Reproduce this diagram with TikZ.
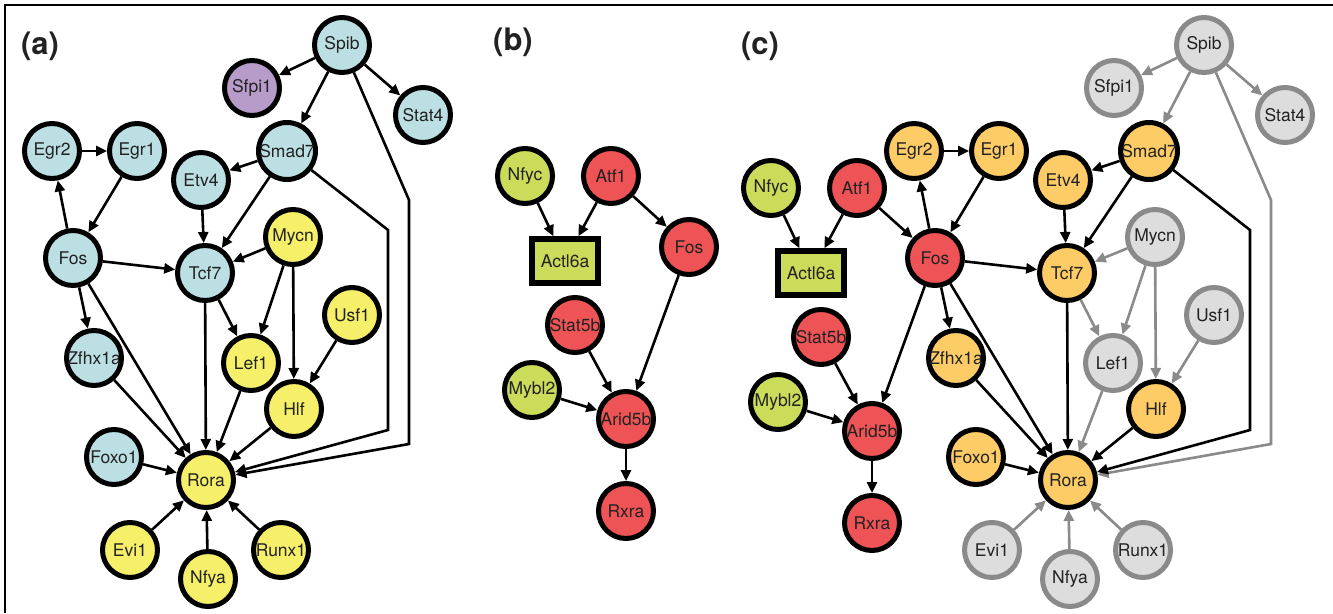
\documentclass[tikz,border=0pt]{standalone}
\usepackage{fontspec}
\setmainfont{TeX Gyre Heros}
\usetikzlibrary{arrows.meta}
\definecolor{cblue}{HTML}{BBDFE3}
\definecolor{cpurple}{HTML}{B79CC9}
\definecolor{cyel}{HTML}{F6EF6A}
\definecolor{cred}{HTML}{EE5356}
\definecolor{cgreen}{HTML}{CBDB5A}
\definecolor{corange}{HTML}{FECC66}
\definecolor{cgrayfill}{HTML}{DDDDDD}
\definecolor{cgrayline}{HTML}{8A8A8A}
\definecolor{txt}{HTML}{222222}
\tikzset{
  gn/.style={circle, minimum size=55pt, inner sep=0pt, line width=5pt, draw=black, text=txt, font=\fontsize{17.5}{19}\selectfont},
  nblue/.style={gn, fill=cblue},
  npurple/.style={gn, fill=cpurple},
  nyel/.style={gn, fill=cyel},
  nred/.style={gn, fill=cred},
  ngreen/.style={gn, fill=cgreen},
  norange/.style={gn, fill=corange},
  ngray/.style={gn, fill=cgrayfill, draw=cgrayline},
  nbox/.style={rectangle, minimum width=66pt, minimum height=44pt, inner sep=0pt, line width=5.5pt, draw=black, fill=cgreen, text=txt, font=\fontsize{17.5}{19}\selectfont},
  ed/.style={line width=2.6pt, color=black, -{Triangle[length=11pt,width=10pt]}},
  ged/.style={ed, color=cgrayline},
  plabel/.style={font=\fontsize{31}{33}\selectfont\bfseries, text=txt, inner sep=0pt},
}
\begin{document}
\begin{tikzpicture}[x=1pt,y=-1pt]
\useasboundingbox (0,0) rectangle (1333,613);
\fill[white] (0,0) rectangle (1333,613);
\coordinate (frTL) at (5,5);
\coordinate (frTR) at (1333,5);
\coordinate (frBL) at (5,613);
\draw[line width=1.6pt] (frTR) -- (frTL) -- (frBL);

% panel labels
\node[plabel] (la) at (40,46) {(a)};
\node[plabel] (lb) at (513,42) {(b)};
\node[plabel] (lc) at (760,46) {(c)};

% ---------------- panel (a)
\node[nblue]   (aSpib)   at (342,45)  {Spib};
\node[npurple] (aSfpi1)  at (252,88)  {Sfpi1};
\node[nblue]   (aStat4)  at (423,115) {Stat4};
\node[nblue]   (aEgr2)   at (52,151)  {Egr2};
\node[nblue]   (aEgr1)   at (137,151) {Egr1};
\node[nblue]   (aSmad7)  at (287,151) {Smad7};
\node[nblue]   (aEtv4)   at (201,180) {Etv4};
\node[nyel]    (aMycn)   at (293,237) {Mycn};
\node[nblue]   (aFos)    at (73,258)  {Fos};
\node[nblue]   (aTcf7)   at (205,273) {Tcf7};
\node[nyel]    (aUsf1)   at (352,315) {Usf1};
\node[nblue]   (aZfhx1a) at (94,358)  {Zfhx1a};
\node[nyel]    (aLef1)   at (251,363) {Lef1};
\node[nyel]    (aHlf)    at (294,409) {Hlf};
\node[nblue]   (aFoxo1)  at (114,457) {Foxo1};
\node[nyel]    (aRora)   at (206,480) {Rora};
\node[nyel]    (aEvi1)   at (130,550) {Evi1};
\node[nyel]    (aNfya)   at (208,579) {Nfya};
\node[nyel]    (aRunx1)  at (281,550) {Runx1};
\coordinate (aw1) at (409,200);
\coordinate (aw2) at (409,444);
\coordinate (aw3) at (388,230);
\coordinate (aw4) at (388,430);

\draw[ed] (aSpib) -- (aSfpi1);
\draw[ed] (aSpib) -- (aSmad7);
\draw[ed] (aSpib) -- (aStat4);
\draw[ed] (aSpib) -- (aw1) -- (aw2) -- (aRora);
\draw[ed] (aSmad7) -- (aw3) -- (aw4) -- (aRora);
\draw[ed] (aEgr2) -- (aEgr1);
\draw[ed] (aEgr1) -- (aFos);
\draw[ed] (aFos) -- (aEgr2);
\draw[ed] (aSmad7) -- (aEtv4);
\draw[ed] (aSmad7) -- (aTcf7);
\draw[ed] (aEtv4) -- (aTcf7);
\draw[ed] (aMycn) -- (aTcf7);
\draw[ed] (aFos) -- (aTcf7);
\draw[ed] (aFos) -- (aZfhx1a);
\draw[ed] (aFos) -- (aRora);
\draw[ed] (aTcf7) -- (aRora);
\draw[ed] (aTcf7) -- (aLef1);
\draw[ed] (aMycn) -- (aLef1);
\draw[ed] (aMycn) -- (aHlf);
\draw[ed] (aUsf1) -- (aHlf);
\draw[ed] (aZfhx1a) -- (aRora);
\draw[ed] (aLef1) -- (aRora);
\draw[ed] (aHlf) -- (aRora);
\draw[ed] (aFoxo1) -- (aRora);
\draw[ed] (aEvi1) -- (aRora);
\draw[ed] (aNfya) -- (aRora);
\draw[ed] (aRunx1) -- (aRora);

% ---------------- panel (b)
\node[ngreen] (bNfyc)   at (525,176) {Nfyc};
\node[nred]   (bAtf1)   at (611,176) {Atf1};
\node[nbox]   (bActl6a) at (565,261) {Actl6a};
\node[nred]   (bFos)    at (689,247) {Fos};
\node[nred]   (bStat5b) at (575,325) {Stat5b};
\node[ngreen] (bMybl2)  at (532,390) {Mybl2};
\node[nred]   (bArid5b) at (626,419) {Arid5b};
\node[nred]   (bRxra)   at (626,511) {Rxra};
\draw[ed] (bNfyc) -- (bActl6a);
\draw[ed] (bAtf1) -- (bActl6a);
\draw[ed] (bAtf1) -- (bFos);
\draw[ed] (bFos) -- (bArid5b);
\draw[ed] (bStat5b) -- (bArid5b);
\draw[ed] (bMybl2) -- (bArid5b);
\draw[ed] (bArid5b) -- (bRxra);

% ---------------- panel (c)
\node[ngray]   (cSpib)   at (1204,45)  {Spib};
\node[ngray]   (cSfpi1)  at (1114,88)  {Sfpi1};
\node[ngray]   (cStat4)  at (1285,115) {Stat4};
\node[norange] (cEgr2)   at (914,151)  {Egr2};
\node[norange] (cEgr1)   at (999,151)  {Egr1};
\node[norange] (cSmad7)  at (1149,151) {Smad7};
\node[norange] (cEtv4)   at (1063,180) {Etv4};
\node[ngray]   (cMycn)   at (1155,237) {Mycn};
\node[nred]    (cFos)    at (935,258)  {Fos};
\node[norange] (cTcf7)   at (1067,273) {Tcf7};
\node[ngray]   (cUsf1)   at (1214,315) {Usf1};
\node[norange] (cZfhx1a) at (956,358)  {Zfhx1a};
\node[ngray]   (cLef1)   at (1113,363) {Lef1};
\node[norange] (cHlf)    at (1156,409) {Hlf};
\node[norange] (cFoxo1)  at (976,457)  {Foxo1};
\node[norange] (cRora)   at (1068,480) {Rora};
\node[ngray]   (cEvi1)   at (992,550)  {Evi1};
\node[ngray]   (cNfya)   at (1070,579) {Nfya};
\node[ngray]   (cRunx1)  at (1143,550) {Runx1};
\node[ngreen]  (cNfyc)   at (771,188)  {Nfyc};
\node[nred]    (cAtf1)   at (857,188)  {Atf1};
\node[nbox]    (cActl6a) at (811,273)  {Actl6a};
\node[nred]    (cStat5b) at (821,337)  {Stat5b};
\node[ngreen]  (cMybl2)  at (778,402)  {Mybl2};
\node[nred]    (cArid5b) at (872,431)  {Arid5b};
\node[nred]    (cRxra)   at (872,523)  {Rxra};
\coordinate (cw1) at (1271,200);
\coordinate (cw2) at (1271,444);
\coordinate (cw3) at (1250,230);
\coordinate (cw4) at (1250,430);

\draw[ged] (cSpib) -- (cSfpi1);
\draw[ged] (cSpib) -- (cSmad7);
\draw[ged] (cSpib) -- (cStat4);
\draw[ged] (cSpib) -- (cw1) -- (cw2) -- (cRora);
\draw[ed] (cSmad7) -- (cw3) -- (cw4) -- (cRora);
\draw[ed] (cEgr2) -- (cEgr1);
\draw[ed] (cEgr1) -- (cFos);
\draw[ed] (cFos) -- (cEgr2);
\draw[ed] (cSmad7) -- (cEtv4);
\draw[ed] (cSmad7) -- (cTcf7);
\draw[ed] (cEtv4) -- (cTcf7);
\draw[ged] (cMycn) -- (cTcf7);
\draw[ed] (cFos) -- (cTcf7);
\draw[ed] (cFos) -- (cZfhx1a);
\draw[ed] (cFos) -- (cRora);
\draw[ed] (cFos) -- (cArid5b);
\draw[ed] (cTcf7) -- (cRora);
\draw[ged] (cTcf7) -- (cLef1);
\draw[ged] (cMycn) -- (cLef1);
\draw[ged] (cMycn) -- (cHlf);
\draw[ged] (cUsf1) -- (cHlf);
\draw[ed] (cZfhx1a) -- (cRora);
\draw[ged] (cLef1) -- (cRora);
\draw[ed] (cHlf) -- (cRora);
\draw[ed] (cFoxo1) -- (cRora);
\draw[ged] (cEvi1) -- (cRora);
\draw[ged] (cNfya) -- (cRora);
\draw[ged] (cRunx1) -- (cRora);
\draw[ed] (cAtf1) -- (cFos);
\draw[ed] (cNfyc) -- (cActl6a);
\draw[ed] (cAtf1) -- (cActl6a);
\draw[ed] (cStat5b) -- (cArid5b);
\draw[ed] (cMybl2) -- (cArid5b);
\draw[ed] (cArid5b) -- (cRxra);
\end{tikzpicture}
\end{document}
